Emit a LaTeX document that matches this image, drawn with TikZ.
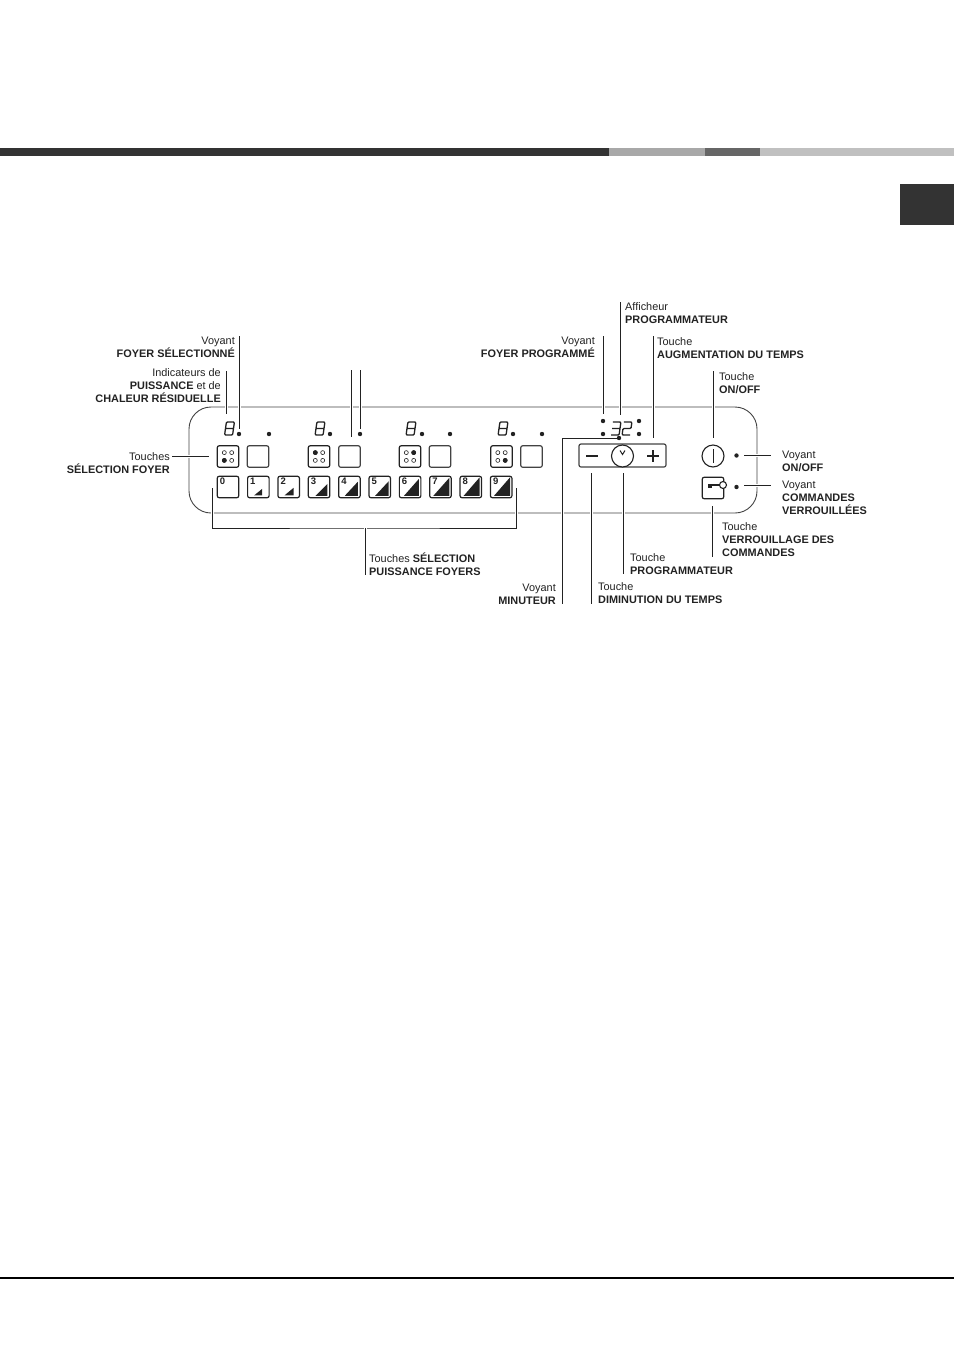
\documentclass[tikz,border=0pt]{standalone}
\usepackage{fontspec}
\setmainfont{Liberation Sans}
\usepackage{xcolor}
\usetikzlibrary{positioning,calc}

\definecolor{bardark}{HTML}{333333}
\definecolor{barmid}{HTML}{A8A8A8}
\definecolor{bargrey}{HTML}{666666}
\definecolor{barlight}{HTML}{C0C0C0}
\definecolor{ink}{HTML}{222222}

% seven segment figures
\newcommand{\segeight}[2]{\draw [shift={(#1,#2)}, seg] (-4,-6.5) rectangle (4,6.5) (-4,0) -- (4,0);}
\newcommand{\segthree}[2]{\draw [shift={(#1,#2)}, seg] (-4,-6.5) -- (4,-6.5) -- (4,6.5) -- (-4,6.5) (-4,0) -- (4,0);}
\newcommand{\segtwo}[2]{\draw [shift={(#1,#2)}, seg] (-4,-6.5) -- (4,-6.5) -- (4,0) -- (-4,0) -- (-4,6.5) -- (4,6.5);}

\begin{document}
\begin{tikzpicture}[
    x=1pt, y=-1pt,
    panel/.style={rectangle, draw=ink!85, line width=0.9pt, rounded corners=22pt, minimum width=568pt, minimum height=106pt, inner sep=0pt},
    key/.style={rectangle, draw=ink, fill=white, line width=1.2pt, rounded corners=2pt, minimum width=21.5pt, minimum height=21.5pt, inner sep=0pt},
    round key/.style={circle, draw=ink, fill=white, line width=1.1pt, minimum size=22pt, inner sep=0pt},
    lamp/.style={circle, fill=ink, minimum size=4.4pt, inner sep=0pt},
    spot/.style={circle, draw=ink, line width=0.6pt, minimum size=4pt, inner sep=0pt},
    spoton/.style={spot, fill=ink},
    seg/.style={draw=ink, line width=1.3pt, rounded corners=1pt, xslant=0.14},
    lead/.style={draw=ink, line width=0.9pt, preaction={draw=white, line width=3pt}},
    lab/.style={font=\fontsize{10.9}{13}\selectfont, text=ink, inner sep=0pt, align=left, anchor=north west},
    labr/.style={lab, align=right, anchor=north east},
    num/.style={font=\fontsize{9.5}{9.5}\selectfont\bfseries, text=ink, inner sep=0pt, anchor=north west}
]
    \useasboundingbox (0,0) rectangle (954,1350);

    % top and bottom rules
    \fill [bardark] (0,148) rectangle (609,156);
    \fill [barmid] (609,148) rectangle (705,156);
    \fill [bargrey] (705,148) rectangle (760,156);
    \fill [barlight] (760,148) rectangle (954,156);
    \fill [bardark] (900,184) rectangle (954,225);
    \fill [black] (0,1277) rectangle (954,1279);

    \node [panel] (board) at (473,460) {};

    % free ends of the leaders
    \coordinate (selT) at (239,336);   \coordinate (selB) at (239,429);
    \coordinate (indT) at (226,371);   \coordinate (indB) at (226,414);
    \coordinate (twoT) at (351,370);   \coordinate (twoB) at (351,437);
    \coordinate (dotT) at (360,370);   \coordinate (dotB) at (360,429);
    \coordinate (prgT) at (603,336);   \coordinate (prgB) at (603,414);
    \coordinate (affT) at (620,302);   \coordinate (affB) at (620,415);
    \coordinate (augT) at (653,336);   \coordinate (augB) at (653,438);
    \coordinate (onT) at (713,371);    \coordinate (onB) at (713,438);
    \coordinate (minA) at (619,438);   \coordinate (minB) at (562,604);
    \coordinate (dimT) at (591,473);   \coordinate (dimB) at (591,604);
    \coordinate (proT) at (623,473);   \coordinate (proB) at (623,574);
    \coordinate (verT) at (712,506);   \coordinate (verB) at (712,557);
    \coordinate (touA) at (172,456);   \coordinate (touB) at (209,456);
    \coordinate (brkA) at (212,488);   \coordinate (brkB) at (516,488);
    \coordinate (stmA) at (365,528);   \coordinate (stmB) at (365,575);
    \coordinate (onrA) at (744,455.5); \coordinate (onrB) at (771,455.5);
    \coordinate (lckA) at (744,485);   \coordinate (lckB) at (771,485);

    \draw [lead] (selT) -- (selB);
    \draw [lead] (indT) -- (indB);
    \draw [lead] (twoT) -- (twoB);
    \draw [lead] (dotT) -- (dotB);
    \draw [lead] (prgT) -- (prgB);
    \draw [lead] (affT) -- (affB);
    \draw [lead] (augT) -- (augB);
    \draw [lead] (onT) -- (onB);
    \draw [lead] (minA) -| (minB);
    \draw [lead] (dimT) -- (dimB);
    \draw [lead] (proT) -- (proB);
    \draw [lead] (verT) -- (verB);
    \draw [lead] (touA) -- (touB);
    \draw [lead] (brkA) |- (stmA) -| (brkB);
    \draw [lead] (stmA) -- (stmB);
    \draw [lead] (onrA) -- (onrB);
    \draw [lead] (lckA) -- (lckB);

    % figures and lamps of the four zones
    \foreach \n/\xa/\xb/\xc in {1/229.5/239/269, 2/320/330/360, 3/411/422/450, 4/503/513/542} {
        \segeight{\xa}{428.5}
        \node [lamp] (lampa\n) at (\xb,434) {};
        \node [lamp] (lampb\n) at (\xc,434) {};
    }

    % zone selection keys
    \foreach \n/\xa/\xb/\px/\py in {1/228/258/-1/1, 2/319/349.5/-1/-1, 3/410/440/1/-1, 4/501.5/531.5/1/1} {
        \node [key] (zone\n) at (\xa,456.5) {};
        \node [key, draw=ink!85] (blank\n) at (\xb,456.5) {};
        \foreach \sx in {-1,1} \foreach \sy in {-1,1}
            \node [spot] at ($(zone\n)+(3.7*\sx,3.9*\sy)$) {};
        \node [spoton] at ($(zone\n)+(3.7*\px,3.9*\py)$) {};
    }

    % power keys
    \foreach \i in {0,...,9} {
        \node [key] (pow\i) at ({228+30.35*\i},487) {};
    }
    \foreach \i/\w/\h/\r/\b in {1/8/6.5/7.5/3, 2/9/7.5/6.5/3, 3/12/12/3/2.5, 4/13/14/3/2.5, 5/13.5/14.5/2.5/2.5, 6/15/17/2.5/2.5, 7/16/18/2.5/2.5, 8/16/18.5/2.5/2.5, 9/16/18.5/2.5/2.5} {
        \fill [ink] ($(pow\i.south east)+(-\r,-\b)$) -- ++(-\w,0) -- ++(\w,-\h) -- cycle;
    }
    \foreach \i in {0,...,9} {
        \node [num] at ($(pow\i.north west)+(3,2)$) {\i};
    }

    % timer group
    \segthree{616}{428.5}
    \segtwo{627}{428.5}
    \node [lamp] (prga) at (603,421) {};
    \node [lamp] (prgb) at (603,434) {};
    \node [lamp] (prgc) at (639,421) {};
    \node [lamp] (prgd) at (639,434) {};
    \node [lamp] (minuteur) at (619,438) {};
    \node [key, draw=ink!85, minimum width=87pt, minimum height=23pt] (timebar) at (622.5,455.5) {};
    \draw [ink, line width=1.7pt] (586,456) -- (598,456);
    \draw [ink, line width=1.3pt] (647,456) -- (659,456) (653,450) -- (653,462);
    \node [round key] (timer) at (622.5,456) {};
    \draw [ink, line width=1pt] (620,450.5) -- (622.5,454.5) -- (625,450.5);

    % on/off and lock
    \node [round key] (onoff) at (713,456) {};
    \draw [ink, line width=0.9pt] (onoff.center) ++(0,-7) -- ++(0,14);
    \node [lamp] (lampon) at (736.5,455.5) {};
    \node [key] (lock) at (713,488) {};
    \draw [ink, line width=1.8pt] (708,485) -- (720,485);
    \fill [ink] (708,484) rectangle (712,488);
    \node [circle, draw=ink, fill=white, line width=1.1pt, minimum size=7pt, inner sep=0pt] (keyring) at (723,485) {};
    \node [lamp] (lamplock) at (736.5,487) {};

    % labels
    \node [labr] (lbsel) at (235,336.5) {Voyant\\\textbf{FOYER SÉLECTIONNÉ}};
    \node [labr] (lbind) at (221,368) {Indicateurs de\\\textbf{PUISSANCE} et de\\\textbf{CHALEUR RÉSIDUELLE}};
    \node [labr] (lbtou) at (170,452) {Touches\\\textbf{SÉLECTION FOYER}};
    \node [lab] (lbpui) at (369,552.5) {Touches \textbf{SÉLECTION}\\\textbf{PUISSANCE FOYERS}};
    \node [labr] (lbprg) at (595,337) {Voyant\\\textbf{FOYER PROGRAMMÉ}};
    \node [lab] (lbaff) at (625,302.5) {Afficheur\\\textbf{PROGRAMMATEUR}};
    \node [lab] (lbaug) at (657,337) {Touche\\\textbf{AUGMENTATION DU TEMPS}};
    \node [lab] (lbon) at (719,372) {Touche\\\textbf{ON/OFF}};
    \node [lab] (lbvon) at (782,451) {Voyant\\\textbf{ON/OFF}};
    \node [lab] (lbcom) at (782,480.5) {Voyant\\\textbf{COMMANDES}\\\textbf{VERROUILLÉES}};
    \node [lab] (lbver) at (722,522) {Touche\\\textbf{VERROUILLAGE DES}\\\textbf{COMMANDES}};
    \node [lab] (lbpro) at (630,553) {Touche\\\textbf{PROGRAMMATEUR}};
    \node [labr] (lbmin) at (556,584) {Voyant\\\textbf{MINUTEUR}};
    \node [lab] (lbdim) at (598,582) {Touche\\\textbf{DIMINUTION DU TEMPS}};
\end{tikzpicture}
\end{document}
